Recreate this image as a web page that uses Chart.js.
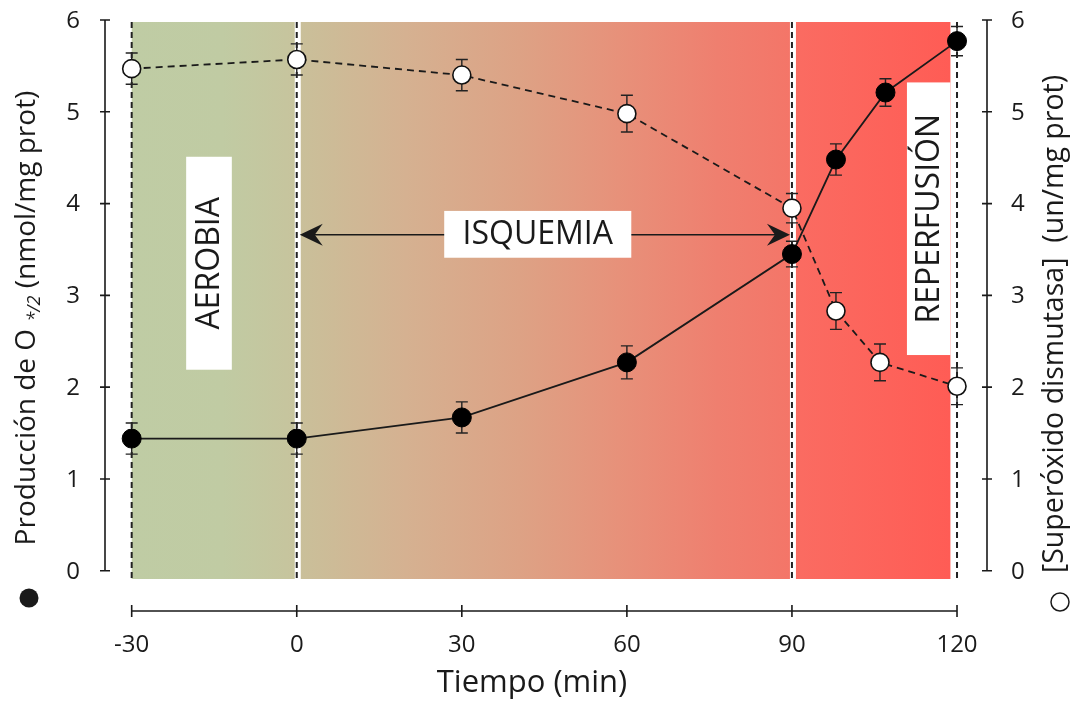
<!DOCTYPE html>
<html>
<head>
<meta charset="utf-8">
<script src="https://cdn.jsdelivr.net/npm/chart.js@4.4.1/dist/chart.umd.min.js"></script>
<style>
    html, body { margin: 0; padding: 0; background: #fff; }
    #wrap { width: 1075px; height: 702px; position: relative; }
</style>
</head>
<body>
<div id="wrap"><canvas id="chart"></canvas></div>
<script>
// Data
const o2Times = [-30, 0, 30, 60, 90, 98, 107, 120];
const o2Production = [1.44, 1.44, 1.67, 2.27, 3.45, 4.48, 5.21, 5.77];
const o2Error = [0.17, 0.17, 0.17, 0.18, 0.14, 0.17, 0.15, 0.16];

const sodTimes = [-30, 0, 30, 60, 90, 98, 106, 120];
const sodActivity = [5.47, 5.57, 5.40, 4.98, 3.95, 2.83, 2.27, 2.01];
const sodError = [0.17, 0.17, 0.17, 0.2, 0.16, 0.2, 0.2, 0.2];

const xTicks = [-30, 0, 30, 60, 90, 120];
const yTicks = [0, 1, 2, 3, 4, 5, 6];

const phaseLines = [-30, 0, 90, 120];

const FONT = '"Open Sans", Lato, sans-serif';
const INK = '#1a1a1a';

function pts(xs, ys) {
    return xs.map((x, i) => ({ x: x, y: ys[i] }));
}

// backgrounds, phase lines, labels, arrow, error bars
const decorPlugin = {
    id: 'decor',
    beforeDatasetsDraw(chart) {
        const ctx = chart.ctx;
        const xs = chart.scales.x;
        const ys = chart.scales.y;
        const area = chart.chartArea;
        const top = area.top + 2;
        const bottom = area.bottom;
        const px = v => xs.getPixelForValue(v);

        ctx.save();
        // aerobic phase
        let x0 = px(-30), x1 = px(0);
        let g = ctx.createLinearGradient(x0, 0, x1, 0);
        g.addColorStop(0, 'rgb(191,204,164)');
        g.addColorStop(0.55, 'rgb(192,203,163)');
        g.addColorStop(1, 'rgb(199,196,157)');
        ctx.fillStyle = g;
        ctx.fillRect(x0, top, x1 - x0, bottom - top);

        // ischemia phase
        x0 = px(0); x1 = px(90);
        g = ctx.createLinearGradient(x0, 0, x1, 0);
        g.addColorStop(0, 'rgb(201,192,154)');
        g.addColorStop(0.22, 'rgb(213,177,145)');
        g.addColorStop(0.45, 'rgb(221,162,133)');
        g.addColorStop(0.65, 'rgb(231,145,122)');
        g.addColorStop(0.85, 'rgb(239,127,111)');
        g.addColorStop(1, 'rgb(244,117,104)');
        ctx.fillStyle = g;
        ctx.fillRect(x0, top, x1 - x0, bottom - top);

        // reperfusion phase
        x0 = px(90); x1 = px(118.8);
        g = ctx.createLinearGradient(x0, 0, x1, 0);
        g.addColorStop(0, 'rgb(250,108,98)');
        g.addColorStop(1, 'rgb(255,92,85)');
        ctx.fillStyle = g;
        ctx.fillRect(x0, top, x1 - x0, bottom - top);

        // phase lines
        phaseLines.forEach(v => {
            const x = px(v);
            if (v === 0 || v === 90) {
                ctx.strokeStyle = '#fff';
                ctx.lineWidth = 6;
                ctx.setLineDash([]);
                ctx.beginPath();
                ctx.moveTo(x + 1, top);
                ctx.lineTo(x + 1, bottom);
                ctx.stroke();
            }
            ctx.strokeStyle = '#222';
            ctx.lineWidth = 2;
            ctx.setLineDash([6, 4]);
            ctx.beginPath();
            ctx.moveTo(x, top);
            ctx.lineTo(x, bottom);
            ctx.stroke();
        });
        ctx.setLineDash([]);

        // ischemia arrow
        const ay = ys.getPixelForValue(3.66);
        const ax0 = px(0) + 3, ax1 = px(90) - 2;
        ctx.strokeStyle = INK;
        ctx.fillStyle = INK;
        ctx.lineWidth = 1.6;
        ctx.beginPath();
        ctx.moveTo(ax0 + 8, ay);
        ctx.lineTo(ax1 - 8, ay);
        ctx.stroke();
        const head = (tip, dir) => {
            ctx.beginPath();
            ctx.moveTo(tip, ay);
            ctx.lineTo(tip + dir * 23, ay - 11);
            ctx.lineTo(tip + dir * 15, ay);
            ctx.lineTo(tip + dir * 23, ay + 11);
            ctx.closePath();
            ctx.fill();
        };
        head(ax0, 1);
        head(ax1, -1);

        // text boxes
        const box = (xa, xb, ya, yb, text, rotate) => {
            const l = px(xa), r = px(xb);
            const t = ys.getPixelForValue(ya), b = ys.getPixelForValue(yb);
            ctx.fillStyle = '#fff';
            ctx.fillRect(l, t, r - l, b - t);
            ctx.fillStyle = INK;
            ctx.font = '32px ' + FONT;
            ctx.textAlign = 'center';
            ctx.textBaseline = 'middle';
            ctx.save();
            ctx.translate((l + r) / 2, (t + b) / 2);
            if (rotate) ctx.rotate(-Math.PI / 2);
            ctx.fillText(text, 0, 1);
            ctx.restore();
        };
        box(-20.1, -11.8, 4.51, 2.19, 'AEROBIA', true);
        box(26.8, 60.8, 3.92, 3.41, 'ISQUEMIA', false);
        box(110.9, 118.8, 5.32, 2.35, 'REPERFUSIÓN', true);

        // error bars
        const bars = (times, vals, errs, axis) => {
            const sc = chart.scales[axis];
            ctx.strokeStyle = '#222';
            ctx.lineWidth = 1.4;
            times.forEach((t, i) => {
                const x = px(t);
                const yt = sc.getPixelForValue(vals[i] + errs[i]);
                const yb = sc.getPixelForValue(vals[i] - errs[i]);
                ctx.beginPath();
                ctx.moveTo(x, yt); ctx.lineTo(x, yb);
                ctx.moveTo(x - 6, yt); ctx.lineTo(x + 6, yt);
                ctx.moveTo(x - 6, yb); ctx.lineTo(x + 6, yb);
                ctx.stroke();
            });
        };
        bars(o2Times, o2Production, o2Error, 'y');
        bars(sodTimes, sodActivity, sodError, 'y2');
        ctx.restore();
    },
    afterDraw(chart) {
        const ctx = chart.ctx;
        const xs = chart.scales.x;
        const ys = chart.scales.y;
        const y2 = chart.scales.y2;
        const area = chart.chartArea;
        ctx.save();
        ctx.strokeStyle = INK;
        ctx.fillStyle = INK;
        ctx.lineWidth = 1.6;

        // left and right axes
        [[area.left, ys, 'right', -25], [area.right, y2, 'left', 24]].forEach(([ax, sc, align, off]) => {
            const yTop = sc.getPixelForValue(yTicks[yTicks.length - 1]);
            const yBot = sc.getPixelForValue(yTicks[0]);
            ctx.beginPath();
            ctx.moveTo(ax, yTop); ctx.lineTo(ax, yBot);
            yTicks.forEach(v => {
                const y = sc.getPixelForValue(v);
                ctx.moveTo(ax - 5, y); ctx.lineTo(ax + 5, y);
            });
            ctx.stroke();
            ctx.font = '24px ' + FONT;
            ctx.textAlign = align;
            ctx.textBaseline = 'middle';
            yTicks.forEach(v => {
                ctx.fillText(String(v), ax + off, sc.getPixelForValue(v) + 1);
            });
        });

        // detached time axis
        const by = 611;
        const bx0 = xs.getPixelForValue(xTicks[0]);
        const bx1 = xs.getPixelForValue(xTicks[xTicks.length - 1]);
        ctx.beginPath();
        ctx.moveTo(bx0, by); ctx.lineTo(bx1, by);
        xTicks.forEach(v => {
            const x = xs.getPixelForValue(v);
            ctx.moveTo(x, by - 6); ctx.lineTo(x, by + 6);
        });
        ctx.stroke();
        ctx.font = '24px ' + FONT;
        ctx.textAlign = 'center';
        ctx.textBaseline = 'middle';
        xTicks.forEach(v => {
            ctx.fillText(String(v), xs.getPixelForValue(v), 645);
        });
        ctx.font = '31px ' + FONT;
        ctx.fillText('Tiempo (min)', 532, 683);

        // left title with subscript
        ctx.save();
        ctx.translate(27, 318);
        ctx.rotate(-Math.PI / 2);
        const parts = [
            ['Producción de O ', '28px ' + FONT, 0],
            ['*/2', 'italic 18px ' + FONT, 8],
            [' (nmol/mg prot)', '28px ' + FONT, 0]
        ];
        let total = 0;
        parts.forEach(p => { ctx.font = p[1]; total += ctx.measureText(p[0]).width; });
        let cx = -total / 2;
        ctx.textAlign = 'left';
        parts.forEach(p => {
            ctx.font = p[1];
            ctx.fillText(p[0], cx, p[2]);
            cx += ctx.measureText(p[0]).width;
        });
        ctx.restore();

        // right title
        ctx.save();
        ctx.translate(1055, 324);
        ctx.rotate(-Math.PI / 2);
        ctx.font = '28.5px ' + FONT;
        ctx.textAlign = 'center';
        ctx.fillText('[Superóxido dismutasa]  (un/mg prot)', 0, 0);
        ctx.restore();

        // series keys
        ctx.beginPath();
        ctx.arc(29, 598, 9.5, 0, Math.PI * 2);
        ctx.fill();
        ctx.beginPath();
        ctx.lineWidth = 1.5;
        ctx.arc(1060, 602, 9, 0, Math.PI * 2);
        ctx.stroke();
        ctx.restore();
    }
};

new Chart(document.getElementById('chart'), {
    type: 'line',
    data: {
        datasets: [
            {
                label: 'Producción de O2',
                data: pts(o2Times, o2Production),
                yAxisID: 'y',
                borderColor: INK,
                borderWidth: 1.8,
                pointRadius: 9.5,
                pointBackgroundColor: '#000',
                pointBorderColor: '#000',
                pointBorderWidth: 1,
                tension: 0
            },
            {
                label: 'Superóxido dismutasa',
                data: pts(sodTimes, sodActivity),
                yAxisID: 'y2',
                borderColor: INK,
                borderWidth: 1.8,
                borderDash: [7, 5],
                pointRadius: 9,
                pointBackgroundColor: '#fff',
                pointBorderColor: '#111',
                pointBorderWidth: 1.6,
                tension: 0
            }
        ]
    },
    options: {
        responsive: true,
        maintainAspectRatio: false,
        animation: false,
        layout: { padding: { left: 105, right: 88, top: 20, bottom: 123 } },
        plugins: {
            legend: { display: false },
            tooltip: { enabled: false }
        },
        scales: {
            x: { type: 'linear', min: -34.85, max: 125.45, display: false },
            y: { type: 'linear', min: -0.09, max: 6, display: false },
            y2: { type: 'linear', min: -0.09, max: 6, display: false, position: 'right' }
        }
    },
    plugins: [decorPlugin]
});
</script>
</body>
</html>
